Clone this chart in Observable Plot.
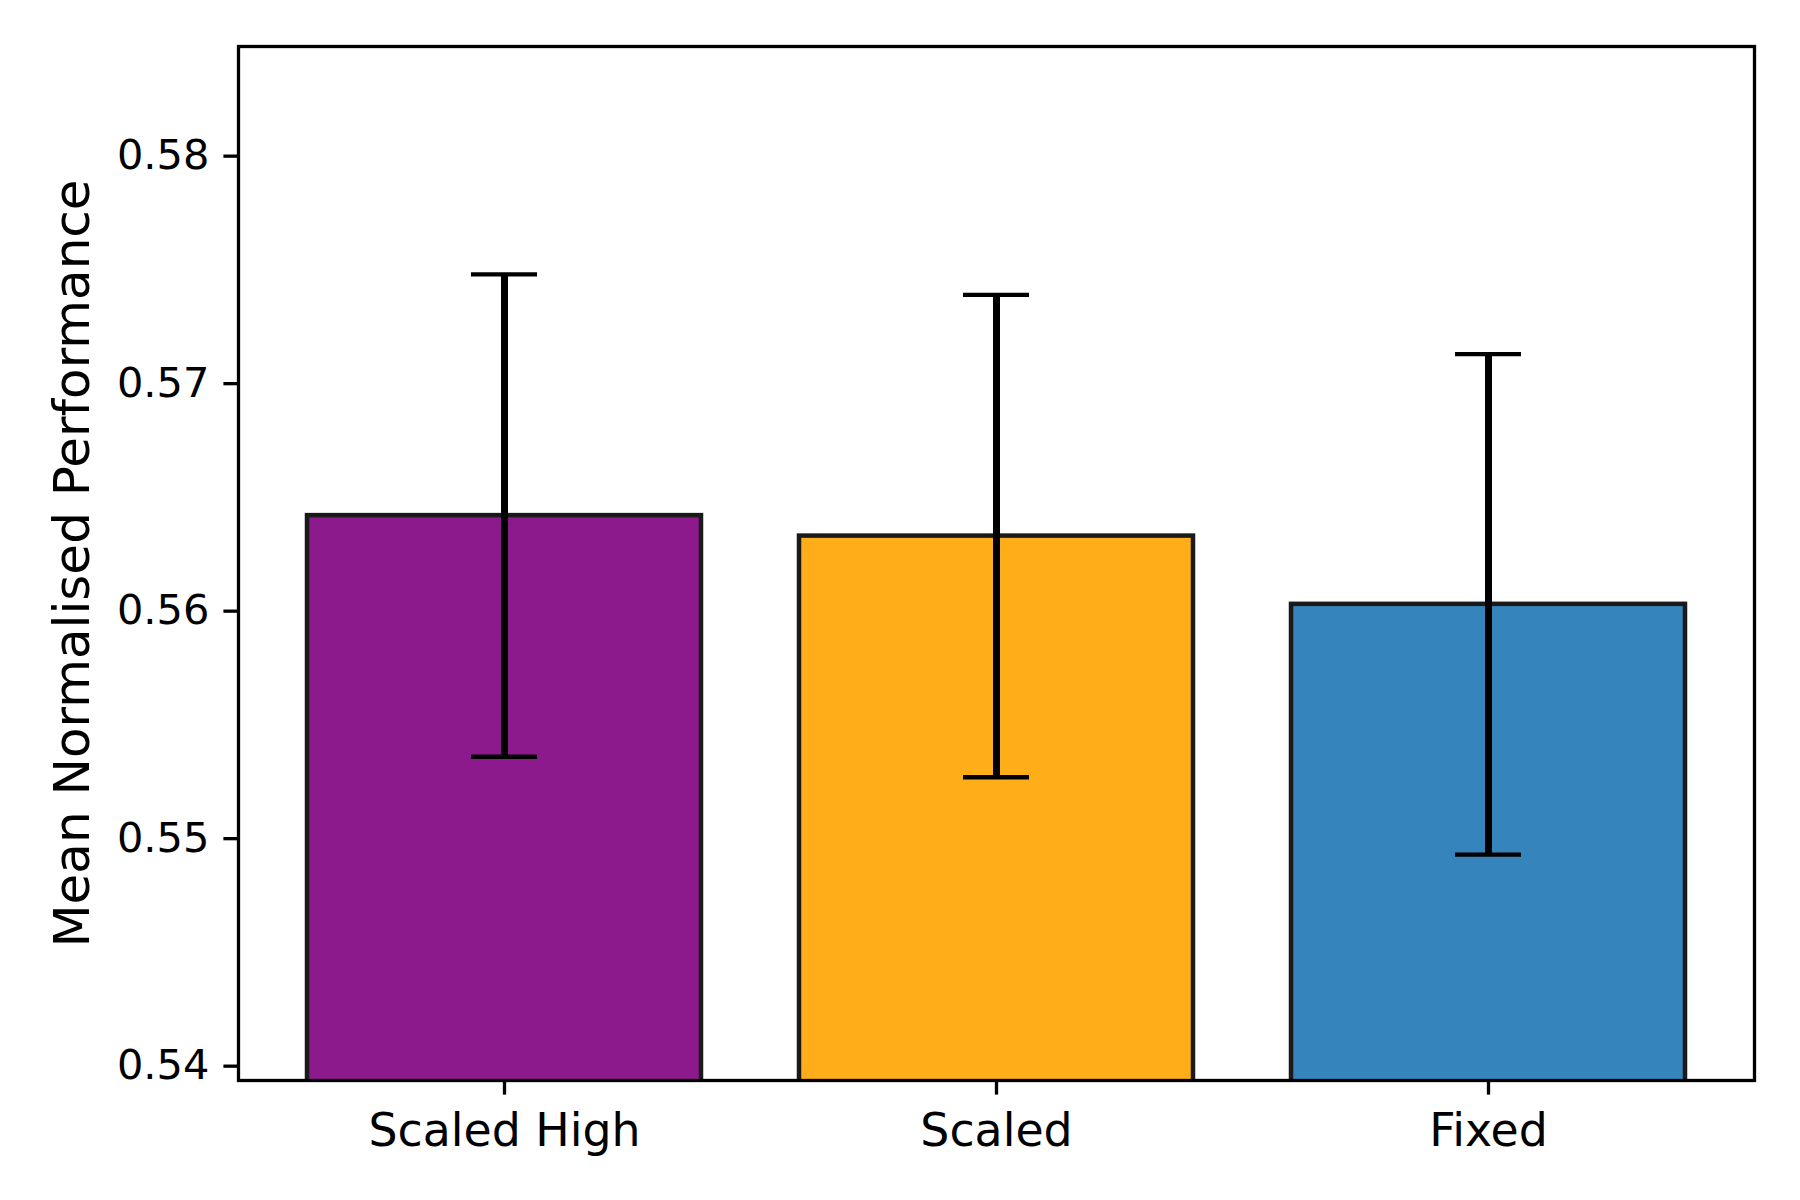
<!DOCTYPE html>
<html>
<head>
<meta charset="utf-8">
<script src="https://cdn.jsdelivr.net/npm/d3@7"></script>
<script src="https://cdn.jsdelivr.net/npm/@observablehq/plot@0.6"></script>
<style>
  html, body { margin: 0; padding: 0; background: white; }
  #chart { width: 1800px; height: 1200px; }
</style>
</head>
<body>
<div id="chart"></div>
<script>
const categories = ["Scaled High", "Scaled", "Fixed"];
const means = [0.5642, 0.5633, 0.5603];
const errors = [0.0106, 0.0106, 0.0110];
const colors = ["#8c1a8c", "#ffae1a", "#3585bc"];
const yTicks = [0.54, 0.55, 0.56, 0.57, 0.58];
const yDomain = [0.53937, 0.58482];
const yLabel = "Mean Normalised Performance";

const rows = categories.map((c, i) => ({
  cat: c, mean: means[i], lo: means[i] - errors[i], hi: means[i] + errors[i]
}));

const chart = Plot.plot({
  width: 1800,
  height: 1200,
  marginLeft: 238,
  marginRight: 46,
  marginTop: 46,
  marginBottom: 120,
  style: { fontFamily: "DejaVu Sans", background: "white", color: "black" },
  x: { domain: categories, paddingInner: 0.2, paddingOuter: 0.14, label: null },
  y: { domain: yDomain, label: null },
  color: { domain: categories, range: colors },
  marks: [
    Plot.barY(rows, { x: "cat", y: "mean", fill: "cat", stroke: "#1a1a1a", strokeWidth: 4.5, clip: true }),
    Plot.ruleX(rows, { x: "cat", y1: "lo", y2: "hi", stroke: "black", strokeWidth: 7 }),
    Plot.tickY(rows, { x: "cat", y: "hi", stroke: "black", strokeWidth: 4.3, insetLeft: 164, insetRight: 164 }),
    Plot.tickY(rows, { x: "cat", y: "lo", stroke: "black", strokeWidth: 4.3, insetLeft: 164, insetRight: 164 }),
    Plot.axisX({ tickSize: 14.6, tickPadding: 18, fontSize: 45.8, strokeWidth: 3.3, label: null }),
    Plot.axisY({ ticks: yTicks, tickFormat: d => d.toFixed(2), tickSize: 14.6, tickPadding: 14.6, fontSize: 41.5, strokeWidth: 3.3, label: null }),
    Plot.frame({ stroke: "black", strokeWidth: 3.3 }),
    Plot.text([yLabel], { frameAnchor: "left", dx: -166, rotate: -90, fontSize: 50, textAnchor: "middle", lineAnchor: "middle", fill: "black" })
  ]
});
document.getElementById("chart").appendChild(chart);
</script>
</body>
</html>
